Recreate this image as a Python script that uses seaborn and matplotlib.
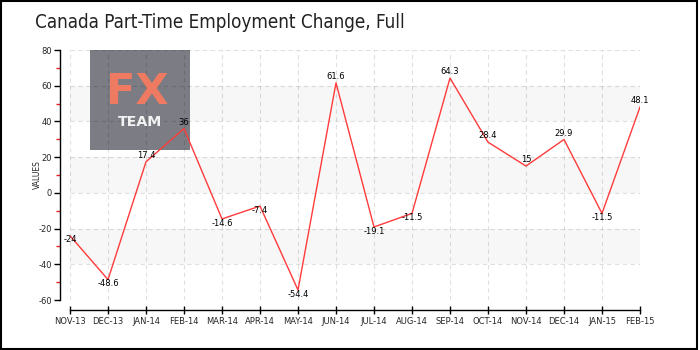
import numpy as np
import pandas as pd
import matplotlib
matplotlib.use("Agg")
import matplotlib.pyplot as plt
from matplotlib.patches import Rectangle
from matplotlib.ticker import MultipleLocator
import seaborn as sns

months = ["NOV-13", "DEC-13", "JAN-14", "FEB-14", "MAR-14", "APR-14", "MAY-14", "JUN-14",
          "JUL-14", "AUG-14", "SEP-14", "OCT-14", "NOV-14", "DEC-14", "JAN-15", "FEB-15"]
values = [-24, -48.6, 17.4, 36, -14.6, -7.4, -54.4, 61.6,
          -19.1, -11.5, 64.3, 28.4, 15, 29.9, -11.5, 48.1]
value_labels = ["-24", "-48.6", "17.4", "36", "-14.6", "-7.4", "-54.4", "61.6",
                "-19.1", "-11.5", "64.3", "28.4", "15", "29.9", "-11.5", "48.1"]
title = "Canada Part-Time Employment Change, Full"
y_label = "VALUES"

sns.set_theme(style="white")
plt.rcParams['font.family'] = ['DejaVu Sans']
plt.rcParams['axes.unicode_minus'] = False

df = pd.DataFrame({"pos": np.arange(len(months)), "value": values})

fig = plt.figure(figsize=(7, 3.5), dpi=100)
ax = fig.add_axes([0.1, 1 - 300 / 350, (640 - 70) / 700, 250 / 350])
ax.set_facecolor("none")

# bands
for lo, hi in [(40, 60), (0, 20), (-40, -20)]:
    ax.axhspan(lo, hi, color="#f7f7f7", zorder=0, lw=0)

# logo box
ax.add_patch(Rectangle((90 / 700, 1 - 150 / 350), 100 / 700, 100 / 350,
                       transform=fig.transFigure, color="#7b7c84", zorder=0.5, lw=0))
ax.text(137 / 700, 1 - 92.5 / 350, "FX", transform=fig.transFigure, ha="center", va="center",
        fontsize=31, fontweight="bold", color="#ef7a62", zorder=0.6)
ax.text(140 / 700, 1 - 121.5 / 350, "TEAM", transform=fig.transFigure, ha="center", va="center",
        fontsize=10.2, fontweight="bold", color="#f2f2f2", zorder=0.6)

sns.lineplot(data=df, x="pos", y="value", ax=ax, color="#ff3b3b", linewidth=1.0, zorder=3)

for i, (v, lab) in enumerate(zip(values, value_labels)):
    dy = 4.5 if v >= 0 else -3
    ax.annotate(lab, (i, v), xytext=(0, dy), textcoords="offset points",
                ha="center", va="center", fontsize=6, color="black", zorder=4)

ax.set_xlim(0, len(months) - 1)
ax.set_ylim(-60, 80)
ax.set_xticks(df["pos"])
ax.set_xticklabels(months)
ax.yaxis.set_major_locator(MultipleLocator(20))
ax.yaxis.set_minor_locator(MultipleLocator(10))

ax.grid(True, which="major", color="black", alpha=0.12, linestyle=(0, (4, 3)),
        linewidth=0.8, zorder=1)
ax.set_axisbelow(True)

sns.despine(ax=ax, offset=7, trim=True)
for s in ["left", "bottom"]:
    ax.spines[s].set_color("black")
    ax.spines[s].set_linewidth(1.0)

ax.tick_params(axis="y", which="major", left=True, length=4, width=1, color="black",
               labelsize=6, pad=2)
ax.tick_params(axis="y", which="minor", left=True, length=3, width=1, color="#ee2222")
ax.tick_params(axis="x", which="major", bottom=True, direction="inout", length=6, width=1,
               color="black", labelsize=6, pad=2)

ax.set_xlabel("")
ax.set_ylabel(y_label, fontsize=5.5)
ax.yaxis.set_label_coords(-0.049, 0.5)

fig.text(35 / 700, 1 - 22 / 350, title, ha="left", va="center", fontsize=13.5,
         color="#222222", family="DejaVu Sans", fontstretch="condensed")

fig.patches.append(Rectangle((0.5 / 700, 1.5 / 350), 696.5 / 700, 347.5 / 350,
                             transform=fig.transFigure, fill=False, edgecolor="black",
                             lw=1.5, figure=fig))

fig.savefig("out.png", dpi=100)
